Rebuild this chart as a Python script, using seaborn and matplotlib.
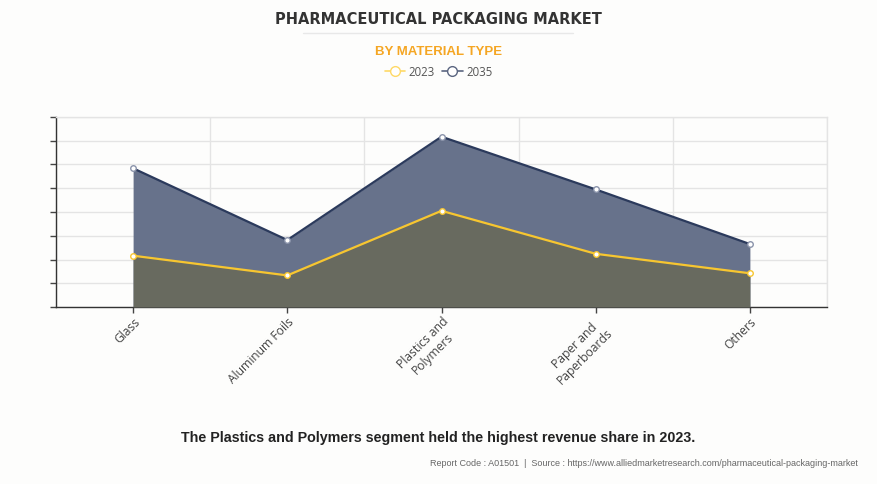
import matplotlib
matplotlib.use("Agg")
import matplotlib.pyplot as plt
import seaborn as sns
import pandas as pd
from matplotlib.lines import Line2D

categories = ["Glass", "Aluminum Foils", "Plastics and\nPolymers", "Paper and\nPaperboards", "Others"]
values_2023 = [2.16, 1.33, 4.05, 2.24, 1.42]
values_2035 = [5.84, 2.82, 7.17, 4.95, 2.65]
series_names = ["2023", "2035"]

sns.set_theme(style="white")
plt.rcParams['font.family'] = ['Open Sans', 'DejaVu Sans']

bg = "#fdfdfc"
fig = plt.figure(figsize=(8.77, 4.84), dpi=100, facecolor=bg)
ax = fig.add_axes([56/877, 1-307/484, (827-56)/877, (307-117)/484])
ax.set_facecolor(bg)

x = list(range(len(categories)))
df = pd.DataFrame({
    "pos": x * 2,
    "value": values_2023 + values_2035,
    "year": [series_names[0]] * len(x) + [series_names[1]] * len(x),
})

col_2035_line = "#2b3a5c"
col_2035_fill = "#67728b"
col_2023_line = "#f7c630"
col_2023_fill = "#686a5f"

ax.fill_between(x, values_2035, 0, color=col_2035_fill, zorder=2, linewidth=0)
ax.fill_between(x, values_2023, 0, color=col_2023_fill, zorder=3, linewidth=0)

sns.lineplot(data=df, x="pos", y="value", hue="year",
             palette={"2023": col_2023_line, "2035": col_2035_line},
             marker="o", markersize=4, markerfacecolor="white",
             markeredgewidth=1.0, linewidth=1.6, legend=False, ax=ax, zorder=4)
for line, c in zip(ax.lines, [col_2023_line, "#8a93aa"]):
    line.set_markeredgecolor(c)

ax.set_xlim(-0.5, 4.5)
ax.set_ylim(0, 8)
ax.set_yticks(range(0, 9))
ax.set_yticklabels([])
ax.set_xticks(x)
ax.set_xticklabels(categories, rotation=45, ha="right", rotation_mode="anchor",
                   fontsize=8.7, color="#444444", multialignment="center")
ax.set_xticks([i + 0.5 for i in range(-1, 5)], minor=True)
ax.set_xlabel("")
ax.set_ylabel("")

ax.grid(True, axis="y", which="major", color="#e4e4e4", linewidth=1, zorder=0)
ax.grid(True, axis="x", which="minor", color="#e4e4e4", linewidth=1, zorder=0)
ax.set_axisbelow(True)

ax.tick_params(axis="y", which="major", left=True, length=4, width=1, color="#444444")
ax.tick_params(axis="x", which="major", bottom=True, length=4, width=1, color="#444444", pad=2)
ax.tick_params(axis="x", which="minor", bottom=False)

for s in ["left", "bottom"]:
    ax.spines[s].set_color("#333333")
    ax.spines[s].set_linewidth(1)
for s in ["top", "right"]:
    ax.spines[s].set_color("#e4e4e4")
    ax.spines[s].set_linewidth(1)

# Titles
fig.text(0.5, 1-19/484, "PHARMACEUTICAL PACKAGING MARKET", ha="center", va="center",
         fontsize=10.5, fontweight="bold", color="#333333", family=["DejaVu Sans"])
fig.add_artist(Line2D([303/877, 573/877], [1-33/484, 1-33/484], color="#e8e8e8", linewidth=1))
fig.text(0.5, 1-52/484, "BY MATERIAL TYPE", ha="center", va="center",
         fontsize=9.5, fontweight="bold", color="#f5a623", family=["Liberation Sans", "DejaVu Sans"])

handles = [
    Line2D([], [], color="#ffd966", marker="o", markerfacecolor="white",
           markeredgecolor="#ffd966", markersize=7, linewidth=1.2),
    Line2D([], [], color="#5a6580", marker="o", markerfacecolor="white",
           markeredgecolor="#5a6580", markersize=7, linewidth=1.2),
]
fig.legend(handles, series_names, loc="center", bbox_to_anchor=(0.5, 1-72/484),
           ncol=2, frameon=False, fontsize=8.3, handlelength=1.8, handletextpad=0.3,
           columnspacing=0.6, labelcolor="#555555")

fig.text(0.5, 1-438/484, "The Plastics and Polymers segment held the highest revenue share in 2023.",
         ha="center", va="center", fontsize=10.3, fontweight="bold", color="#222222",
         family=["Liberation Sans", "DejaVu Sans"])
fig.text(858/877, 1-463/484,
         "Report Code : A01501  |  Source : https://www.alliedmarketresearch.com/pharmaceutical-packaging-market",
         ha="right", va="center", fontsize=6.5, color="#666666",
         family=["Liberation Sans Narrow", "Liberation Sans", "DejaVu Sans"])

fig.savefig("out.png", dpi=100, facecolor=bg)
